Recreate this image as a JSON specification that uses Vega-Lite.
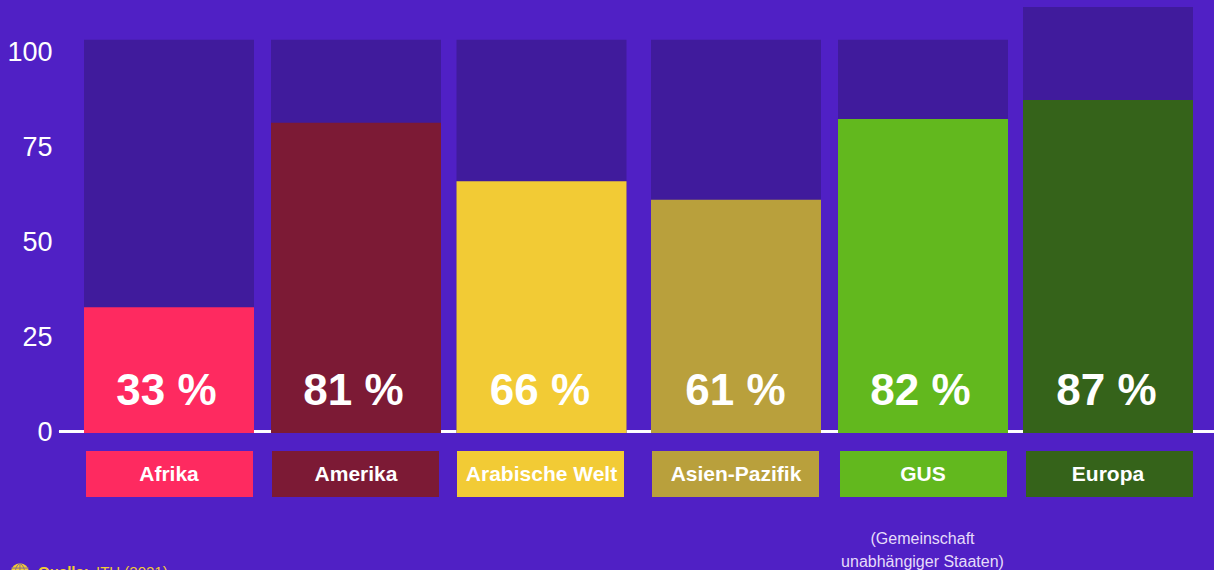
{
  "$schema": "https://vega.github.io/schema/vega-lite/v6.json",
  "width": 1214,
  "height": 570,
  "padding": 0,
  "autosize": {"type": "none"},
  "background": "#5020C5",
  "view": {"stroke": null},
  "config": {
    "text": {"font": "Liberation Sans"},
    "axisY": {"labelFont": "Liberation Sans", "domain": false, "ticks": false, "grid": false, "labelPadding": -52, "labelFontSize": 27, "labelColor": "#FFFFFF", "labelAlign": "right", "labelBaseline": "middle", "titleOpacity": 0}
  },
  "datasets": {
    "regions": [
      {"slot": 0, "region": "Afrika", "value": 33, "shown": "33 %", "backdrop": 103.2},
      {"slot": 1, "region": "Amerika", "value": 81.4, "shown": "81 %", "backdrop": 103.2},
      {"slot": 2, "region": "Arabische Welt", "value": 66.1, "shown": "66 %", "backdrop": 103.2},
      {"slot": 3, "region": "Asien-Pazifik", "value": 61.2, "shown": "61 %", "backdrop": 103.2},
      {"slot": 4, "region": "GUS", "value": 82.4, "shown": "82 %", "backdrop": 103.2},
      {"slot": 5, "region": "Europa", "value": 87.4, "shown": "87 %", "backdrop": 111.8}
    ],
    "note": [{"slot": 4, "note": "(Gemeinschaft\nunabhängiger Staaten)"}]
  },
  "resolve": {"scale": {"x": "independent"}},
  "layer": [
    {
      "data": {"name": "regions"},
      "mark": {"type": "rule", "color": "#FFFFFF", "strokeWidth": 2},
      "encoding": {
        "x": {"datum": -0.651, "type": "quantitative", "axis": null, "scale": {"domain": [-1, 0, 1, 2, 3, 4, 5, 6], "range": [0, 169, 356, 541.5, 736, 923, 1108, 1214]}},
        "x2": {"datum": 6},
        "y": {"datum": 0.4, "type": "quantitative", "title": null, "scale": {"domain": [-35.96, 113.65], "nice": false, "zero": false},
          "axis": {"values": [0, 25, 50, 75, 100], "title": null}}
      }
    },
    {
      "data": {"name": "regions"},
      "mark": {"type": "bar", "orient": "vertical", "width": 170, "color": "#401B9C"},
      "encoding": {
        "x": {"field": "slot", "type": "quantitative", "axis": null, "scale": {"padding": 0, "domain": [-1, 0, 1, 2, 3, 4, 5, 6], "range": [0, 169, 356, 541.5, 736, 923, 1108, 1214]}},
        "y": {"field": "backdrop", "type": "quantitative", "title": null, "stack": null, "axis": {"values": [0, 25, 50, 75, 100], "title": null}},
        "y2": {"datum": 0}
      }
    },
    {
      "data": {"name": "regions"},
      "mark": {"type": "bar", "orient": "vertical", "width": 170},
      "encoding": {
        "x": {"field": "slot", "type": "quantitative", "axis": null, "scale": {"padding": 0, "domain": [-1, 0, 1, 2, 3, 4, 5, 6], "range": [0, 169, 356, 541.5, 736, 923, 1108, 1214]}},
        "y": {"field": "value", "type": "quantitative", "title": null, "stack": null, "axis": {"values": [0, 25, 50, 75, 100], "title": null}},
        "y2": {"datum": 0},
        "color": {"field": "region", "type": "nominal", "legend": null, "scale": {"domain": ["Afrika", "Amerika", "Arabische Welt", "Asien-Pazifik", "GUS", "Europa"], "range": ["#FE2A60", "#7C1A35", "#F2CB35", "#B9A03C", "#62B81E", "#35631A"]}}
      }
    },
    {
      "data": {"name": "regions"},
      "mark": {"type": "text", "fontSize": 44, "fontWeight": "bold", "color": "#FFFFFF", "align": "center", "baseline": "alphabetic", "dx": -2.5},
      "encoding": {
        "x": {"field": "slot", "type": "quantitative", "axis": null, "scale": {"domain": [0, 1, 2, 3, 4, 5], "range": [169, 356, 542.5, 738, 923, 1109]}},
        "y": {"datum": 7.35, "type": "quantitative", "title": null, "axis": {"values": [0, 25, 50, 75, 100], "title": null}},
        "text": {"field": "shown"}
      }
    },
    {
      "data": {"name": "regions"},
      "mark": {"type": "bar", "orient": "vertical", "width": 167},
      "encoding": {
        "x": {"field": "slot", "type": "quantitative", "axis": null, "scale": {"padding": 0, "domain": [0, 1, 2, 3, 4, 5], "range": [169.5, 355.5, 540.5, 735.5, 923.5, 1109.5]}},
        "y": {"datum": -4.72, "type": "quantitative", "title": null, "axis": {"values": [0, 25, 50, 75, 100], "title": null}},
        "y2": {"datum": -16.8},
        "color": {"field": "region", "type": "nominal", "legend": null}
      }
    },
    {
      "data": {"name": "regions"},
      "mark": {"type": "text", "fontSize": 21, "fontWeight": "bold", "color": "#FFFFFF", "align": "center", "baseline": "middle"},
      "encoding": {
        "x": {"field": "slot", "type": "quantitative", "axis": null, "scale": {"domain": [-1, 0, 1, 2, 3, 4, 5, 6], "range": [0, 169, 356, 541.5, 736, 923, 1108, 1214]}},
        "y": {"datum": -11, "type": "quantitative", "title": null, "axis": {"values": [0, 25, 50, 75, 100], "title": null}},
        "text": {"field": "region"}
      }
    },
    {
      "data": {"name": "note"},
      "mark": {"type": "text", "fontSize": 16, "color": "#E6DCFA", "align": "center", "baseline": "alphabetic", "lineBreak": "\n", "lineHeight": 23, "dx": -0.5},
      "encoding": {
        "x": {"field": "slot", "type": "quantitative", "axis": null, "scale": {"domain": [-1, 0, 1, 2, 3, 4, 5, 6], "range": [0, 169, 356, 541.5, 736, 923, 1108, 1214]}},
        "y": {"datum": -29.1, "type": "quantitative", "title": null, "axis": {"values": [0, 25, 50, 75, 100], "title": null}},
        "text": {"field": "note"}
      }
    },
    {
      "data": {"values": [{"source": "Quelle:"}]},
      "mark": {"type": "text", "fontSize": 15, "fontWeight": "bold", "color": "#F2CB35", "align": "left", "baseline": "alphabetic"},
      "encoding": {
        "x": {"datum": -0.775, "type": "quantitative", "axis": null, "scale": {"domain": [-1, 0], "range": [0, 169]}},
        "y": {"datum": -37.9, "type": "quantitative", "title": null, "axis": {"values": [0, 25, 50, 75, 100], "title": null}},
        "text": {"field": "source"}
      }
    },
    {
      "data": {"values": [{"source": "ITU (2021)"}]},
      "mark": {"type": "text", "fontSize": 15, "color": "#F2CB35", "align": "left", "baseline": "alphabetic"},
      "encoding": {
        "x": {"datum": -0.432, "type": "quantitative", "axis": null, "scale": {"domain": [-1, 0], "range": [0, 169]}},
        "y": {"datum": -37.9, "type": "quantitative", "title": null, "axis": {"values": [0, 25, 50, 75, 100], "title": null}},
        "text": {"field": "source"}
      }
    },
    {
      "data": {"values": [{"icon": "globe"}]},
      "mark": {"type": "point", "shape": "circle", "filled": true, "size": 314, "color": "#F2CB35", "opacity": 1},
      "encoding": {
        "x": {"datum": -0.882, "type": "quantitative", "axis": null, "scale": {"domain": [-1, 0], "range": [0, 169]}},
        "y": {"datum": -36.5, "type": "quantitative", "title": null, "axis": {"values": [0, 25, 50, 75, 100], "title": null}}
      }
    },
    {
      "data": {"values": [{"icon": "globe"}]},
      "mark": {"type": "point", "shape": "M -1 -0.45 L 1 -0.45 M 0 -1 L 0 1 M 0 -1 C -0.7 -0.6 -0.7 0.6 0 1 M 0 -1 C 0.7 -0.6 0.7 0.6 0 1", "filled": false, "size": 314, "color": "#8A6F8A", "strokeWidth": 1, "opacity": 1},
      "encoding": {
        "x": {"datum": -0.882, "type": "quantitative", "axis": null, "scale": {"domain": [-1, 0], "range": [0, 169]}},
        "y": {"datum": -36.5, "type": "quantitative", "title": null, "axis": {"values": [0, 25, 50, 75, 100], "title": null}}
      }
    }
  ]
}
